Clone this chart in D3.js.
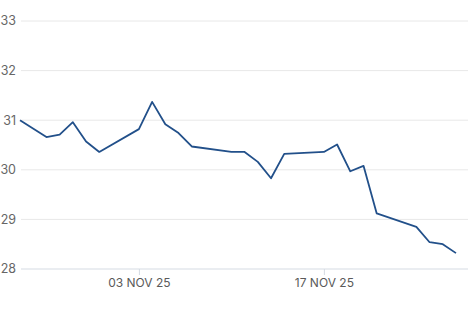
<!DOCTYPE html>
<html><head><meta charset="utf-8">
<script src="https://cdn.jsdelivr.net/npm/d3@7"></script>
<style>
html,body{margin:0;padding:0;background:#fff;}
svg text{font-family:Inter,"Liberation Sans",Arial,sans-serif;}
</style></head>
<body><svg id="c" width="468" height="312"></svg>
<script>
const dates = ["2025-10-25","2025-10-27","2025-10-28","2025-10-29","2025-10-30","2025-10-31",
"2025-11-03","2025-11-04","2025-11-05","2025-11-06","2025-11-07",
"2025-11-10","2025-11-11","2025-11-12","2025-11-13","2025-11-14",
"2025-11-17","2025-11-18","2025-11-19","2025-11-20","2025-11-21",
"2025-11-24","2025-11-25","2025-11-26","2025-11-27"];
const values = [31.00,30.66,30.71,30.96,30.57,30.36,
30.82,31.37,30.92,30.74,30.47,
30.36,30.36,30.16,29.83,30.32,
30.36,30.51,29.97,30.08,29.12,
28.85,28.54,28.50,28.32];
const yTicks = [28,29,30,31,32,33];
const xTickDates = ["2025-11-03","2025-11-17"];
const xTickLabels = ["03 NOV 25","17 NOV 25"];

(function(){
const parse = d3.utcParse("%Y-%m-%d");
const data = dates.map((d,i)=>({date:parse(d), value:values[i]}));

const svg = d3.select("#c");
const mLeft = 21, mRight = 468, mTop = 21, mBottom = 269;
const x = d3.scaleUtc().domain([parse("2025-10-25"), parse("2025-11-27")]).range([20, 456]);
const y = d3.scaleLinear().domain([28,33]).range([mBottom, mTop]);

svg.append("g").selectAll("line").data(yTicks.filter(t=>t!==28)).join("line")
  .attr("x1", mLeft).attr("x2", mRight)
  .attr("y1", d=>y(d)).attr("y2", d=>y(d))
  .attr("stroke", "#e8e8e8").attr("stroke-width", 1);

svg.append("g").selectAll("text").data(yTicks).join("text")
  .attr("x", 16).attr("y", d=>y(d)).attr("dy","0.35em")
  .attr("text-anchor","end").attr("font-size", 12.5).attr("fill","#666")
  .text(d=>d);

const xAxis = d3.axisBottom(x)
  .tickValues(xTickDates.map(parse))
  .tickFormat((d,i)=>xTickLabels[i])
  .tickSize(6).tickSizeOuter(0).tickPadding(3);
const gx = svg.append("g").attr("transform", `translate(0,${y(28)})`).call(xAxis);
gx.select(".domain").remove();
gx.insert("line", ":first-child").attr("x1", mLeft).attr("x2", mRight).attr("y1",0).attr("y2",0)
  .attr("stroke","#d5dbe3").attr("stroke-width",1);
gx.selectAll(".tick line").attr("stroke","#d5dbe3");
gx.selectAll(".tick text").attr("fill","#5a5a5a").attr("font-size",12)
  .attr("font-family",'Inter,"Liberation Sans",Arial,sans-serif');

svg.append("path").datum(data)
  .attr("fill","none").attr("stroke","#22508a").attr("stroke-width",1.8)
  .attr("stroke-linejoin","round")
  .attr("d", d3.line().x(d=>x(d.date)).y(d=>y(d.value)));
})();
</script></body></html>
